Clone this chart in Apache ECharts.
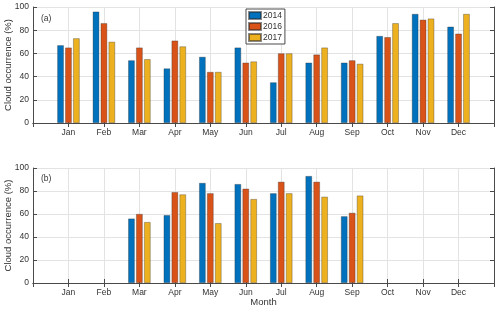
<!DOCTYPE html>
<html><head><meta charset="utf-8">
<script src="https://cdn.jsdelivr.net/npm/echarts@6/dist/echarts.min.js"></script>
<style>html,body{margin:0;padding:0;background:#fff}#c{width:500px;height:310px}</style>
</head><body><div id="c"></div>
<script>
const months = ['Jan','Feb','Mar','Apr','May','Jun','Jul','Aug','Sep','Oct','Nov','Dec'];
const years = ['2014','2016','2017'];
const yTicks = [0,20,40,60,80,100];
// Panel (a)
const a2014 = [67,96,54,47,57,65,35,52,52,75,94,83];
const a2016 = [65,86,65,71,44,52,60,59,54,74,89,77];
const a2017 = [73,70,55,66,44,53,60,65,51,86,90,94];
// Panel (b)
const b2014 = [null,null,56,59,87,86,78,93,58,null,null,null];
const b2016 = [null,null,60,79,78,82,88,88,61,null,null,null];
const b2017 = [null,null,53,77,52,73,78,75,76,null,null,null];

const colors = ['#0072BD','#D95319','#EDB120'];
const cats = [''].concat(months, ['']);
const pad = arr => [null].concat(arr, [null]);
const FONT = 'Liberation Sans';
const axisCol = '#4a4a4a';
const gridCol = '#e3e3e3';
const textCol = '#333';

function xAxes(gridIndex, showName){
  const common = {
    type:'category', data:cats, gridIndex, boundaryGap:false,
    axisLine:{show:true, lineStyle:{color:axisCol, width:1}},
    axisTick:{show:true, inside:true, length:4, interval:0, lineStyle:{color:axisCol}},
  };
  return [
    Object.assign({}, common, {
      position:'bottom',
      axisLabel:{show:true, interval:0, color:textCol, fontFamily:FONT, fontSize:8.5, margin:5},
      splitLine:{show:true, interval:0, lineStyle:{color:gridCol, width:1}},
      name: showName ? 'Month' : '', nameLocation:'middle', nameGap:14, nameMoveOverlap:false,
      nameTextStyle:{color:textCol, fontFamily:FONT, fontSize:9.5}
    }),
    Object.assign({}, common, {
      position:'top',
      axisLabel:{show:false}, splitLine:{show:false}
    })
  ];
}
function yAxes(gridIndex){
  const common = {
    type:'value', gridIndex, min:0, max:100, interval:20,
    axisLine:{show:true, lineStyle:{color:axisCol, width:1}},
    axisTick:{show:true, inside:true, length:4, lineStyle:{color:axisCol}},
  };
  return [
    Object.assign({}, common, {
      position:'left',
      axisLabel:{show:true, color:textCol, fontFamily:FONT, fontSize:8.5, margin:4},
      splitLine:{show:true, lineStyle:{color:gridCol, width:1}},
      name:'Cloud occurrence (%)', nameLocation:'middle', nameGap:20, nameMoveOverlap:false,
      nameTextStyle:{color:textCol, fontFamily:FONT, fontSize:9.5}
    }),
    Object.assign({}, common, {
      position:'right', axisLabel:{show:false}, splitLine:{show:false}
    })
  ];
}

const seriesA = [a2014,a2016,a2017];
const seriesB = [b2014,b2016,b2017];
const series = [];
[seriesA, seriesB].forEach((set, gi) => {
  set.forEach((vals, i) => {
    series.push({
      type:'bar', name:years[i], data:pad(vals),
      xAxisIndex: gi*2, yAxisIndex: gi*2,
      barWidth:6.5, barGap:'22%',
      itemStyle:{color:colors[i], borderColor:'rgba(40,40,40,0.55)', borderWidth:0.6},
      emphasis:{disabled:true}, animation:false
    });
  });
});

const chart = echarts.init(document.getElementById('c'), null, {renderer:'canvas'});
chart.setOption({
  backgroundColor:'#fff',
  animation:false,
  grid:[
    {left:33, right:6, top:7, height:116, containLabel:false, outerBoundsMode:'none'},
    {left:33, right:6, top:168, height:115, containLabel:false, outerBoundsMode:'none'}
  ],
  xAxis: xAxes(0,false).concat(xAxes(1,true)),
  yAxis: yAxes(0).concat(yAxes(1)),
  legend:{
    data:years, orient:'vertical', left:246, top:9,
    itemWidth:12, itemHeight:7, itemGap:2, padding:[2,3,2,2],
    backgroundColor:'#fff', borderColor:axisCol, borderWidth:1,
    icon:'rect', textStyle:{fontFamily:FONT, fontSize:8.5, color:textCol, padding:[0,0,0,-3]},
    selectedMode:false
  },
  graphic:[
    {type:'text', left:41, top:14, style:{text:'(a)', font:'8.5px "Liberation Sans"', fill:textCol}},
    {type:'text', left:41, top:174, style:{text:'(b)', font:'8.5px "Liberation Sans"', fill:textCol}}
  ],
  series
});
</script></body></html>
